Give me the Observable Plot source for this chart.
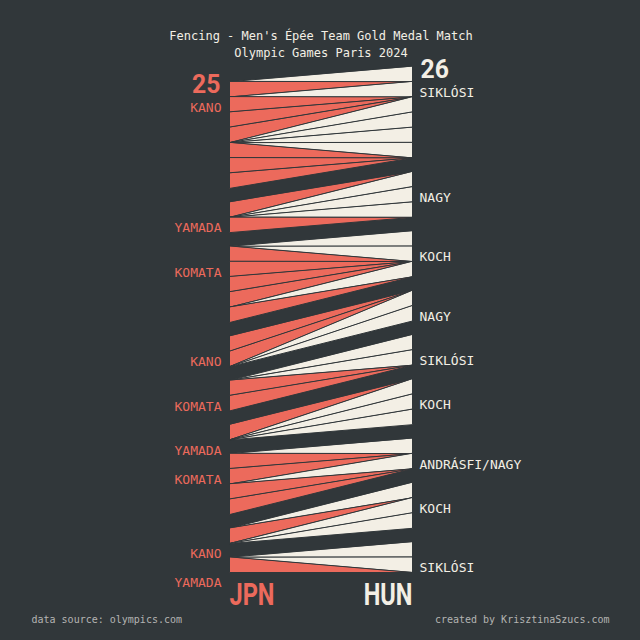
<!DOCTYPE html>
<html>
<head>
<meta charset="utf-8">
<script src="https://cdn.jsdelivr.net/npm/d3@7"></script>
<script src="https://cdn.jsdelivr.net/npm/@observablehq/plot@0.6"></script>
<style>
  html, body { margin: 0; padding: 0; background: #31373a; }
  #chart { width: 640px; height: 640px; }
</style>
</head>
<body>
<div id="chart"></div>
<script>
// ---------------- data ----------------
const title = "Fencing - Men's Épée Team Gold Medal Match";
const subtitle = "Olympic Games Paris 2024";
const sourceNote = "data source: olympics.com";
const credit = "created by KrisztinaSzucs.com";

const teams = ["JPN", "HUN"];
const finalScores = [25, 26];

// fencers per relay bout
const fencersJPN = ["KANO", "YAMADA", "KOMATA", "KANO", "KOMATA", "YAMADA", "KOMATA", "KANO", "YAMADA"];
const fencersHUN = ["SIKLÓSI", "NAGY", "KOCH", "NAGY", "SIKLÓSI", "KOCH", "ANDRÁSFI/NAGY", "KOCH", "SIKLÓSI"];

// order of touches within each bout (J = Japan scores, H = Hungary scores)
const boutTouches = [
  "HJHJJJHHHHJJJ",
  "JHHHJ",
  "HHJJJJHJ",
  "JJHH",
  "HHJJ",
  "JHHH",
  "HJJHJJ",
  "HJHH",
  "HHJ"
];

// ---------------- colours ----------------
const BG = "#31373a";
const RED = "#ec6a5c";
const CREAM = "#f3efe5";
const GREY = "#b4b4b2";

// ---------------- layout from data ----------------
const GAP = 0.9; // empty slot between bouts, in touch units
const countJ = boutTouches.join("").split("").filter(c => c === "J").length;
const countH = boutTouches.join("").split("").filter(c => c === "H").length;
const nGaps = boutTouches.length - 1;
const totalJ = countJ + nGaps * GAP;
const totalH = countH + nGaps * GAP;
const total = Math.max(totalJ, totalH);

const cursor = {J: total - totalJ, H: total - totalH};
const triangles = [];
const bouts = [];
boutTouches.forEach((seq, b) => {
  if (b > 0) { cursor.J += GAP; cursor.H += GAP; }
  bouts.push({jpn: fencersJPN[b], hun: fencersHUN[b], startJ: cursor.J, startH: cursor.H});
  for (const c of seq) {
    if (c === "J") {
      triangles.push({team: "JPN", base: cursor.J, apex: cursor.H});
      cursor.J += 1;
    } else {
      triangles.push({team: "HUN", base: cursor.H, apex: cursor.J});
      cursor.H += 1;
    }
  }
});

const pts = [];
triangles.forEach((t, i) => {
  const side = t.team === "JPN" ? 0 : 1;
  pts.push({id: i, team: t.team, x: side, y: t.base});
  pts.push({id: i, team: t.team, x: side, y: t.base + 1});
  pts.push({id: i, team: t.team, x: 1 - side, y: t.apex});
});

const MONO = "'DejaVu Sans Mono', 'Liberation Mono', monospace";
const BIG = "Roboto, 'Liberation Sans', sans-serif";

const chart = Plot.plot({
  width: 640,
  height: 640,
  marginTop: 66,
  marginBottom: 68,
  marginLeft: 229,
  marginRight: 228,
  x: {domain: [0, 1], axis: null},
  y: {domain: [0, total], reverse: true, axis: null},
  color: {domain: teams, range: [RED, CREAM]},
  style: {background: BG, color: CREAM, overflow: "visible"},
  marks: [
    Plot.line(pts, {x: "x", y: "y", z: "id", fill: "team", stroke: BG, strokeWidth: 1, curve: "linear-closed"}),
    // bout fencer labels
    Plot.text(bouts, {y: "startJ", text: "jpn", frameAnchor: "left", textAnchor: "end", dx: -8, dy: 26,
      fill: RED, fontSize: 13, fontFamily: MONO}),
    Plot.text(bouts, {y: "startH", text: "hun", frameAnchor: "right", textAnchor: "start", dx: 7, dy: 26,
      fill: CREAM, fontSize: 13, fontFamily: MONO}),
    // final scores
    Plot.text([bouts[0]], {y: "startJ", text: () => String(finalScores[0]), frameAnchor: "left", textAnchor: "end",
      dx: -9, dy: 3, fill: RED, fontSize: 26, fontWeight: "bold", fontFamily: BIG}),
    Plot.text([bouts[0]], {y: "startH", text: () => String(finalScores[1]), frameAnchor: "right", textAnchor: "start",
      dx: 8, dy: 3, fill: CREAM, fontSize: 26, fontWeight: "bold", fontFamily: BIG}),
    // team names
    Plot.text([teams[0]], {frameAnchor: "bottom-left", textAnchor: "start", dy: 32, fill: RED,
      fontSize: 31, fontWeight: "bold", fontFamily: BIG}),
    Plot.text([teams[1]], {frameAnchor: "bottom-right", textAnchor: "end", dy: 32, fill: CREAM,
      fontSize: 31, fontWeight: "bold", fontFamily: BIG}),
    // title
    Plot.text([title], {frameAnchor: "top", dy: -35, fill: CREAM, fontSize: 12, fontFamily: MONO}),
    Plot.text([subtitle], {frameAnchor: "top", dy: -18, fill: CREAM, fontSize: 12, fontFamily: MONO}),
    // footer
    Plot.text([sourceNote], {frameAnchor: "bottom-left", textAnchor: "start", dx: -198, dy: 50, fill: GREY,
      fontSize: 10, fontFamily: MONO}),
    Plot.text([credit], {frameAnchor: "bottom-right", textAnchor: "end", dx: 197, dy: 50, fill: GREY,
      fontSize: 10, fontFamily: MONO})
  ]
});

document.getElementById("chart").appendChild(chart);

// condensed look for the big numbers / team names
const scoreTexts = new Set(finalScores.map(String));
const teamTexts = new Set(teams);
chart.querySelectorAll("text").forEach(el => {
  const s = el.textContent.trim();
  const k = scoreTexts.has(s) ? 0.95 : teamTexts.has(s) ? 0.76 : 0;
  if (!k) return;
  const w = el.getComputedTextLength();
  if (w > 0) {
    el.setAttribute("textLength", (w * k).toFixed(1));
    el.setAttribute("lengthAdjust", "spacingAndGlyphs");
  }
});
</script>
</body>
</html>
